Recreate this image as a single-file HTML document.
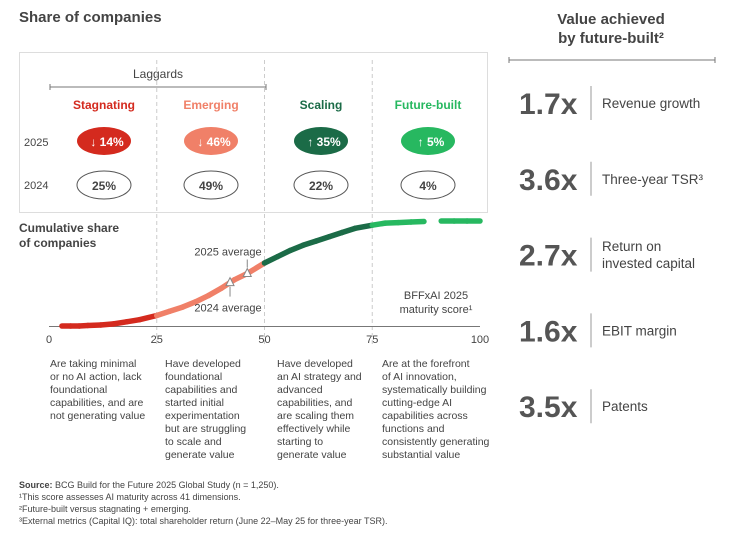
<!DOCTYPE html>
<html><head><meta charset="utf-8"><style>
body{margin:0;background:#fff;}
svg{display:block;font-family:"Liberation Sans",sans-serif;}
</style></head><body>
<svg id="c" width="749" height="552" viewBox="0 0 749 552">
<text x="19" y="22" font-size="15" font-weight="bold" fill="#444">Share of companies</text>
<rect x="19.5" y="52.5" width="468" height="160" fill="none" stroke="#ddd"/>
<line x1="50" y1="87" x2="266" y2="87" stroke="#777"/>
<line x1="50" y1="84" x2="50" y2="90" stroke="#777"/><line x1="266" y1="84" x2="266" y2="90" stroke="#777"/>
<text x="158" y="78" font-size="12" fill="#444" text-anchor="middle">Laggards</text>
<text x="24" y="146" font-size="11" fill="#444">2025</text>
<text x="24" y="189" font-size="11" fill="#444">2024</text>
<g id="segs"></g>
<g id="plot"></g>
<text x="19" y="232" font-size="12" font-weight="bold" fill="#444">Cumulative share</text>
<text x="19" y="247" font-size="12" font-weight="bold" fill="#444">of companies</text>
<text x="436" y="299" font-size="11" fill="#444" text-anchor="middle">BFFxAI 2025</text>
<text x="436" y="313" font-size="11" fill="#444" text-anchor="middle">maturity score¹</text>
<g font-size="10.5" fill="#444">
<text x="50" y="367">Are taking minimal</text><text x="50" y="380">or no AI action, lack</text><text x="50" y="393">foundational</text><text x="50" y="406">capabilities, and are</text><text x="50" y="419">not generating value</text>
<text x="165" y="367">Have developed</text><text x="165" y="380">foundational</text><text x="165" y="393">capabilities and</text><text x="165" y="406">started initial</text><text x="165" y="419">experimentation</text><text x="165" y="432">but are struggling</text><text x="165" y="445">to scale and</text><text x="165" y="458">generate value</text>
<text x="277" y="367">Have developed</text><text x="277" y="380">an AI strategy and</text><text x="277" y="393">advanced</text><text x="277" y="406">capabilities, and</text><text x="277" y="419">are scaling them</text><text x="277" y="432">effectively while</text><text x="277" y="445">starting to</text><text x="277" y="458">generate value</text>
<text x="382" y="367">Are at the forefront</text><text x="382" y="380">of AI innovation,</text><text x="382" y="393">systematically building</text><text x="382" y="406">cutting-edge AI</text><text x="382" y="419">capabilities across</text><text x="382" y="432">functions and</text><text x="382" y="445">consistently generating</text><text x="382" y="458">substantial value</text>
</g>
<g font-size="9" fill="#444">
<text x="19" y="488"><tspan font-weight="bold">Source:</tspan> BCG Build for the Future 2025 Global Study (n = 1,250).</text>
<text x="19" y="500">¹This score assesses AI maturity across 41 dimensions.</text>
<text x="19" y="512">²Future-built versus stagnating + emerging.</text>
<text x="19" y="524">³External metrics (Capital IQ): total shareholder return (June 22–May 25 for three-year TSR).</text>
</g>
<text x="611" y="24" font-size="15" font-weight="bold" fill="#444" text-anchor="middle">Value achieved</text>
<text x="611" y="43" font-size="15" font-weight="bold" fill="#444" text-anchor="middle">by future-built²</text>
<line x1="509" y1="60" x2="715" y2="60" stroke="#777"/>
<line x1="509" y1="57" x2="509" y2="63" stroke="#777"/><line x1="715" y1="57" x2="715" y2="63" stroke="#777"/>
<g id="vals"></g>
</svg>
<script>
// segments
const segNames=["Stagnating","Emerging","Scaling","Future-built"];
const segColors=["#d42a1e","#f08068","#1b6b47","#27b860"];
const share2025=[14,46,35,5];
const share2024=[25,49,22,4];
const dir2025=["↓","↓","↑","↑"];
// curve
const scores=[3,5,7,9,12,15,18,21,25,28,31,34,37,40,43,46,50,53,56,59,62,65,68,71,75,78,81,84,87,91,94,97,100];
const cumShare=[0,0,0,0.5,1,2,4,6,10,14,18,23,29,36,44,50,60,66,72,77,81,85,89,93,96,98,98.5,99,99.5,100,100,100,100];
const xTicks=[0,25,50,75,100];
const avgScores=[42,46];
const avgLabels=["2024 average","2025 average"];
// values
const multiples=["1.7x","3.6x","2.7x","1.6x","3.5x"];
const metrics=[["Revenue growth"],["Three-year TSR³"],["Return on","invested capital"],["EBIT margin"],["Patents"]];

const NS="http://www.w3.org/2000/svg";
function mk(t,a,p){const e=document.createElementNS(NS,t);for(const k in a)e.setAttribute(k,a[k]);p.appendChild(e);return e;}
const xs=v=>49+v*4.31;
const ys=v=>326-v*1.05;
const segG=document.getElementById('segs'),plot=document.getElementById('plot');
const centers=[104,211,321,428];
for(let i=0;i<4;i++){
  const cx=centers[i];
  const t=mk('text',{x:cx,y:109,'font-size':12,'font-weight':'bold',fill:segColors[i],'text-anchor':'middle'},segG);t.textContent=segNames[i];
  
  
  const e=mk('ellipse',{cx:cx,cy:141,rx:27,ry:14,fill:segColors[i]},segG);
  
  
  const t2=mk('text',{x:cx+3,y:146,'font-size':12,'font-weight':'bold',fill:'#fff','text-anchor':'middle'},segG);t2.textContent=dir2025[i]+" "+share2025[i]+"%";
  
  
  const e2=mk('ellipse',{cx:cx,cy:185,rx:27,ry:14,fill:'#fff',stroke:'#555'},segG);
  
  
  const t3=mk('text',{x:cx,y:190,'font-size':12,'font-weight':'bold',fill:'#444','text-anchor':'middle'},segG);t3.textContent=share2024[i]+"%";
  
  
}
[25,50,75].forEach(v=>{const l=mk('line',{x1:xs(v),y1:60,x2:xs(v),y2:345,stroke:'#ccc','stroke-dasharray':'4,3'},plot);
  
  });
const ax=mk('line',{x1:49,y1:326.5,x2:480,y2:326.5,stroke:'#777'},plot);


xTicks.forEach(v=>{const t=mk('text',{x:xs(v),y:343,'font-size':11,fill:'#444','text-anchor':'middle'},plot);t.textContent=v;
  
  });
function colorFor(s){return s<25?segColors[0]:s<50?segColors[1]:s<75?segColors[2]:segColors[3];}
function interp(s){for(let i=1;i<scores.length;i++){if(s<=scores[i]){const f=(s-scores[i-1])/(scores[i]-scores[i-1]);return cumShare[i-1]+f*(cumShare[i]-cumShare[i-1]);}}return cumShare[cumShare.length-1];}
for(let i=1;i<scores.length;i++){
  const gap=scores[i-1]>=75 && (scores[i]-scores[i-1])>=4;
  if(gap) continue;
  const p=mk('line',{x1:xs(scores[i-1]),y1:ys(cumShare[i-1]),x2:xs(scores[i]),y2:ys(cumShare[i]),stroke:colorFor((scores[i]+scores[i-1])/2),'stroke-width':5.5,'stroke-linecap':'round'},plot);
  
  
}
avgScores.forEach((s,i)=>{
  const x=xs(s),y=ys(interp(s));
  const tr=mk('polygon',{points:`${x},${y-5} ${x-4},${y+3} ${x+4},${y+3}`,fill:'#fff',stroke:'#888'},plot);
  
  
  const up=i===1;
  mk('line',{x1:x,y1:up?y-6:y+4,x2:x,y2:up?y-14:y+14,stroke:'#888'},plot);
  const t=mk('text',{x:228,y:up?y-18:y+29,'font-size':11,fill:'#444','text-anchor':'middle'},plot);t.textContent=avgLabels[i];
  
  
});
const vg=document.getElementById('vals');
multiples.forEach((m,i)=>{
  const cy=103+i*75.8;
  const t=mk('text',{x:519,y:cy+11,'font-size':30,'font-weight':'bold',fill:'#555'},vg);t.textContent=m;
  
  
  mk('line',{x1:591,y1:cy-17,x2:591,y2:cy+17,stroke:'#999'},vg);
  const lines=metrics[i];
  lines.forEach((s,j)=>{const tt=mk('text',{x:602,y:cy+5+(j-(lines.length-1)/2)*17,'font-size':13.5,fill:'#444'},vg);tt.textContent=s;
    
    });
});
</script>
</body></html>
